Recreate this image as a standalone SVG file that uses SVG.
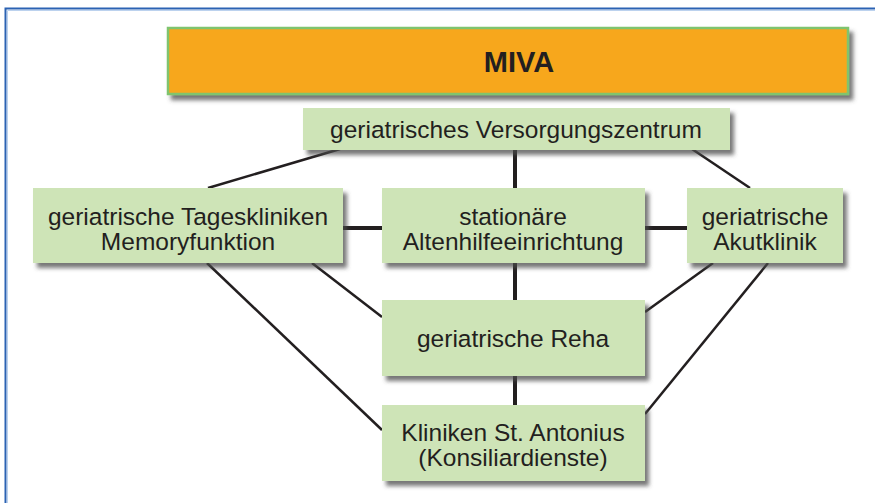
<svg xmlns="http://www.w3.org/2000/svg" width="875" height="503" viewBox="0 0 875 503">
<defs>
<filter id="sh" x="-10%" y="-20%" width="125%" height="150%">
<feDropShadow dx="4" dy="5" stdDeviation="2" flood-color="#4a4a4a" flood-opacity="0.75"/>
</filter>
</defs>
<style>
.box{fill:#cee4b7;filter:url(#sh)}
.t{font-family:"Liberation Sans",Arial,sans-serif;font-size:24.5px;fill:#231f20;text-anchor:middle}
.thin{stroke:#231f20;stroke-width:2.5;fill:none}
.thick{stroke:#231f20;stroke-width:4;fill:none}
</style>
<rect width="875" height="503" fill="#fff"/>
<path d="M5.5,503 V8.5 H875" fill="none" stroke="#2b62b3" stroke-width="2"/>
<path d="M7.5,503 V10.5 H875" fill="none" stroke="#bcd2ee" stroke-width="1"/>
<g id="connectors">
<line class="thin" x1="208" y1="188" x2="340" y2="149"/>
<line class="thin" x1="692" y1="149" x2="750" y2="188"/>
<line class="thick" x1="515" y1="150" x2="515" y2="188"/>
<line class="thick" x1="343" y1="228" x2="382" y2="228"/>
<line class="thick" x1="645" y1="228" x2="687" y2="228"/>
<line class="thick" x1="515" y1="263" x2="515" y2="300"/>
<line class="thick" x1="515" y1="376" x2="515" y2="405"/>
<line class="thin" x1="207" y1="263" x2="382" y2="430"/>
<line class="thin" x1="312" y1="263" x2="382" y2="317"/>
<line class="thin" x1="713" y1="263" x2="645" y2="312"/>
<line class="thin" x1="768" y1="263" x2="645" y2="414"/>
</g>
<g id="miva">
<rect x="168" y="28" width="680" height="66" fill="#f7a71d" stroke="#7fc46e" stroke-width="2.5" filter="url(#sh)"/>
<text x="519" y="72" class="t" style="font-size:29px;font-weight:bold">MIVA</text>
</g>
<g id="versorgungszentrum">
<rect class="box" x="303" y="108" width="427" height="42"/>
<text x="516" y="138" class="t">geriatrisches Versorgungszentrum</text>
</g>
<g id="tageskliniken">
<rect class="box" x="33" y="188" width="310" height="75"/>
<text x="188" y="225" class="t">geriatrische Tageskliniken</text>
<text x="188" y="250" class="t">Memoryfunktion</text>
</g>
<g id="altenhilfe">
<rect class="box" x="382" y="188" width="263" height="75"/>
<text x="513" y="225" class="t">stationäre</text>
<text x="513" y="250" class="t">Altenhilfeeinrichtung</text>
</g>
<g id="akutklinik">
<rect class="box" x="687" y="188" width="156" height="75"/>
<text x="765" y="225" class="t">geriatrische</text>
<text x="765" y="250" class="t">Akutklinik</text>
</g>
<g id="reha">
<rect class="box" x="382" y="300" width="263" height="76"/>
<text x="513" y="347" class="t">geriatrische Reha</text>
</g>
<g id="kliniken">
<rect class="box" x="382" y="405" width="263" height="76"/>
<text x="513" y="441" class="t">Kliniken St. Antonius</text>
<text x="513" y="466" class="t">(Konsiliardienste)</text>
</g>
</svg>
